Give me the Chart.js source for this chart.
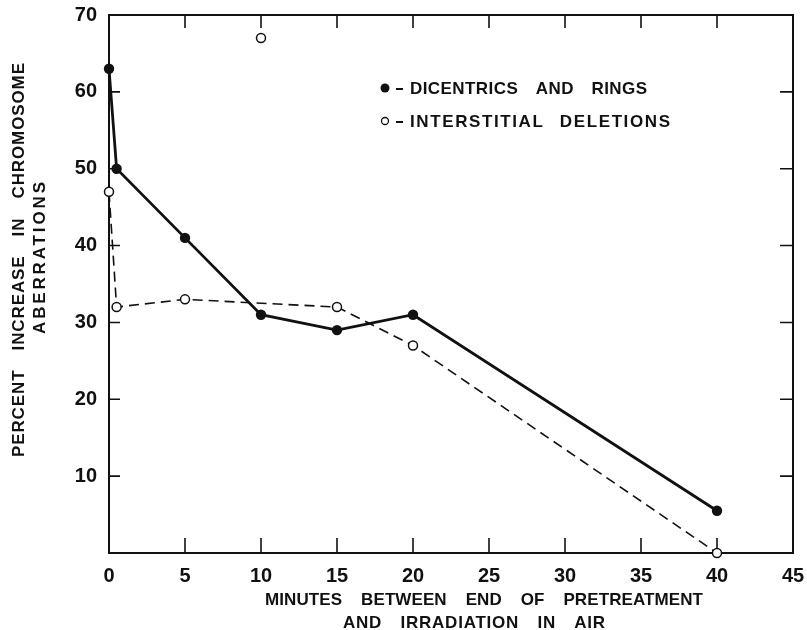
<!DOCTYPE html>
<html>
<head>
<meta charset="utf-8">
<script src="https://cdn.jsdelivr.net/npm/chart.js@4/dist/chart.umd.min.js"></script>
<style>
  html, body { margin: 0; padding: 0; background: #fff; }
  #wrap { width: 807px; height: 630px; }
</style>
</head>
<body>
<div id="wrap"><canvas id="mainChart" width="807" height="630"></canvas></div>
<script>
// minutes after pretreatment
var dicMinutes = [0, 0.5, 5, 10, 15, 20, 40],
  dicValues = [63, 50, 41, 31, 29, 31, 5.5],
  delMinutes = [0, 0.5, 5, 15, 20, 40],
  delValues = [47, 32, 33, 32, 27, 0],
  delOutlierMinutes = [10],
  delOutlierValues = [67];

var xTicks = [0, 5, 10, 15, 20, 25, 30, 35, 40, 45],
  yTicks = [10, 20, 30, 40, 50, 60, 70];

var legendLabels = ['DICENTRICS AND RINGS', 'INTERSTITIAL DELETIONS'],
  xTitle = ['MINUTES BETWEEN END OF PRETREATMENT', 'AND IRRADIATION IN AIR'],
  yTitle = ['PERCENT INCREASE IN CHROMOSOME', 'ABERRATIONS'];

var FONT = "'Liberation Sans', Arial, sans-serif";

function pts (xs, ys) {
  return xs.map(function (x, i) { return { x: x, y: ys[i] }; });
}

// lettering: fixed word gap, letter spacing solved so the line fills width
function spreadText (ctx, text, x, y, width, gap) {
  var words = text.split(' '), sumW = 0, n = 0;
  ctx.textAlign = 'left';
  ctx.letterSpacing = '0px';
  var ws = words.map(function (w) {
    var m = ctx.measureText(w).width;
    sumW += m; n += w.length - 1;
    return m;
  });
  var ls = (width - sumW - gap * (words.length - 1)) / Math.max(1, n);
  ctx.letterSpacing = ls + 'px';
  var cx = x;
  words.forEach(function (w, i) {
    ctx.fillText(w, cx, y);
    cx += ws[i] + ls * (w.length - 1) + gap;
  });
  ctx.letterSpacing = '0px';
}

var framePlugin = {
  id: 'frame',
  beforeDatasetsDraw: function (chart) {
    var ctx = chart.ctx, a = chart.chartArea,
      xs = chart.scales.x, ys = chart.scales.y;
    ctx.save();
    ctx.strokeStyle = '#111';
    ctx.lineWidth = 2;
    ctx.strokeRect(a.left, a.top, a.right - a.left, a.bottom - a.top);
    ctx.lineWidth = 1.6;
    ctx.beginPath();
    xTicks.forEach(function (t) {
      if (t === 0 || t === 45) return;
      var px = xs.getPixelForValue(t);
      ctx.moveTo(px, a.bottom); ctx.lineTo(px, a.bottom - 15);
      ctx.moveTo(px, a.top); ctx.lineTo(px, a.top + 13);
    });
    yTicks.forEach(function (t) {
      if (t === 70) return;
      var py = ys.getPixelForValue(t);
      ctx.moveTo(a.left, py); ctx.lineTo(a.left + 11, py);
      ctx.moveTo(a.right, py); ctx.lineTo(a.right - 13, py);
    });
    ctx.stroke();
    ctx.restore();
  },
  afterDraw: function (chart) {
    var ctx = chart.ctx;
    ctx.save();
    ctx.fillStyle = '#111';
    ctx.strokeStyle = '#111';
    ctx.textBaseline = 'middle';

    // legend
    ctx.font = 'bold 17px ' + FONT;
    ctx.beginPath();
    ctx.arc(385, 88, 4.5, 0, Math.PI * 2);
    ctx.fill();
    ctx.beginPath();
    ctx.arc(385, 121, 3.5, 0, Math.PI * 2);
    ctx.lineWidth = 1.3;
    ctx.stroke();
    ctx.lineWidth = 1.8;
    ctx.beginPath();
    ctx.moveTo(396, 89); ctx.lineTo(403, 89);
    ctx.moveTo(396, 122); ctx.lineTo(403, 122);
    ctx.stroke();
    spreadText(ctx, legendLabels[0], 410, 89, 237, 18);
    spreadText(ctx, legendLabels[1], 410, 122, 260, 17);

    // x title
    ctx.font = 'bold 17px ' + FONT;
    spreadText(ctx, xTitle[0], 265, 600, 438, 19);
    spreadText(ctx, xTitle[1], 343, 623, 262, 19);

    // y title
    ctx.save();
    ctx.translate(19, 260);
    ctx.rotate(-Math.PI / 2);
    spreadText(ctx, yTitle[0], -197, 0, 394, 20);
    ctx.restore();
    ctx.save();
    ctx.translate(40, 258);
    ctx.rotate(-Math.PI / 2);
    spreadText(ctx, yTitle[1], -76, 0, 152, 0);
    ctx.restore();
    ctx.restore();
  }
};

var ctx = document.getElementById('mainChart'),
  myChart;

function noPad (s) {
  s.paddingLeft = 0; s.paddingRight = 0;
  s.paddingTop = 0; s.paddingBottom = 0;
}

function draw () {
  myChart = new Chart(ctx, {
    type: 'scatter',
    data: {
      datasets: [{
        label: legendLabels[0],
        data: pts(dicMinutes, dicValues),
        showLine: true,
        borderColor: '#111',
        borderWidth: 2.8,
        backgroundColor: '#111',
        pointRadius: 5.2,
        pointBorderWidth: 0,
        clip: false
      }, {
        label: legendLabels[1],
        data: pts(delMinutes, delValues),
        showLine: true,
        borderColor: '#111',
        borderWidth: 1.6,
        borderDash: [10, 6],
        backgroundColor: '#fff',
        pointBackgroundColor: '#fff',
        pointBorderColor: '#111',
        pointBorderWidth: 1.5,
        pointRadius: 4.5,
        clip: false
      }, {
        label: 'outlier',
        data: pts(delOutlierMinutes, delOutlierValues),
        showLine: false,
        pointBackgroundColor: '#fff',
        pointBorderColor: '#111',
        pointBorderWidth: 1.5,
        pointRadius: 4.5,
        clip: false
      }]
    },
    options: {
      responsive: false,
      animation: false,
      layout: { padding: { left: 0, right: 14, top: 15, bottom: 0 } },
      plugins: {
        legend: { display: false },
        tooltip: { enabled: false }
      },
      scales: {
        x: {
          type: 'linear',
          min: 0,
          max: 45,
          afterFit: function (s) { s.height = 77; noPad(s); },
          afterBuildTicks: function (s) {
            s.ticks = xTicks.map(function (v) { return { value: v }; });
          },
          grid: { display: false, drawTicks: false },
          border: { display: false },
          ticks: {
            padding: 11,
            color: '#111',
            font: { family: FONT, size: 20, weight: 'bold' },
            maxRotation: 0
          }
        },
        y: {
          min: 0,
          max: 70,
          afterFit: function (s) { s.width = 109; noPad(s); },
          afterBuildTicks: function (s) {
            s.ticks = yTicks.map(function (v) { return { value: v }; });
          },
          grid: { display: false, drawTicks: false },
          border: { display: false },
          ticks: {
            padding: 12,
            color: '#111',
            font: { family: FONT, size: 20, weight: 'bold' }
          }
        }
      }
    },
    plugins: [framePlugin]
  });
}

draw();
</script>
</body>
</html>
